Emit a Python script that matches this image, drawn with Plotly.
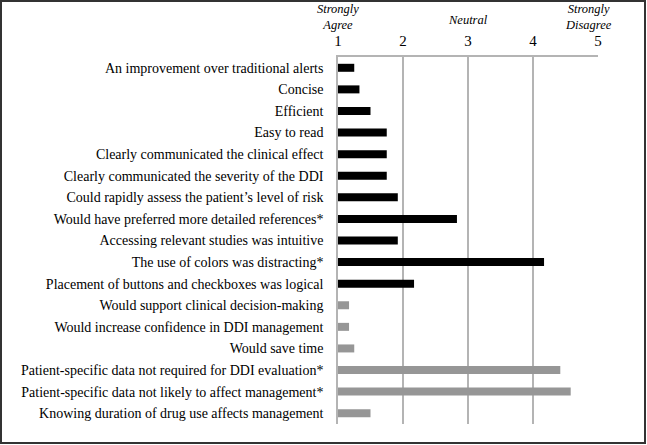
import plotly.graph_objects as go

categories = [
    "An improvement over traditional alerts",
    "Concise",
    "Efficient",
    "Easy to read",
    "Clearly communicated the clinical effect",
    "Clearly communicated the severity of the DDI",
    "Could rapidly assess the patient\u2019s level of risk",
    "Would have preferred more detailed references*",
    "Accessing relevant studies was intuitive",
    "The use of colors was distracting*",
    "Placement of buttons and checkboxes was logical",
    "Would support clinical decision-making",
    "Would increase confidence in DDI management",
    "Would save time",
    "Patient-specific data not required for DDI evaluation*",
    "Patient-specific data not likely to affect management*",
    "Knowing duration of drug use affects management",
]
values = [1.25, 1.33, 1.50, 1.75, 1.75, 1.75, 1.92, 2.83, 1.92, 4.17, 2.17,
          1.17, 1.17, 1.25, 4.42, 4.58, 1.50]
groups = ["black"] * 11 + ["gray"] * 6
tick_vals = [1, 2, 3, 4, 5]
tick_text = ["1", "2", "3", "4", "5"]

colors = {"black": "#000000", "gray": "#969696"}
base = 1

fig = go.Figure(go.Bar(
    y=categories,
    x=[v - base for v in values],
    base=base,
    orientation="h",
    marker=dict(color=[colors[g] for g in groups], line=dict(width=0)),
    width=0.37,
))

FONT = "Liberation Serif"
L, R, T, B = 338, 49, 57, 21
W, H = 647, 445
pw, ph = W - L - R, H - T - B

fig.update_layout(
    width=W, height=H,
    margin=dict(l=L, r=R, t=T, b=B, autoexpand=False),
    paper_bgcolor="white", plot_bgcolor="white",
    showlegend=False,
    font=dict(family=FONT, color="#000000"),
    xaxis=dict(
        side="top", range=[1, 5], tickvals=tick_vals, ticktext=tick_text,
        showgrid=True, gridcolor="#b4b4b4", gridwidth=1.5,
        showline=True, linecolor="#b4b4b4", linewidth=1.5,
        zeroline=False, ticks="", tickfont=dict(size=15, family=FONT),
        ticklabelstandoff=3, fixedrange=True,
    ),
    yaxis=dict(
        autorange="reversed", showgrid=False, zeroline=False,
        showline=True, linecolor="#b4b4b4", linewidth=1.5,
        ticks="", tickfont=dict(size=14, family=FONT),
        ticklabelstandoff=10, fixedrange=True,
    ),
    shapes=[dict(
        type="rect", xref="paper", yref="paper",
        x0=(1 - L) / pw, x1=(W - 2 - L) / pw,
        y0=-(B - 2) / ph, y1=1 + (T - 1) / ph,
        line=dict(color="#333333", width=2), fillcolor="rgba(0,0,0,0)",
    )],
    annotations=[
        dict(x=1, y=1, xref="x", yref="paper", yshift=23, text="Strongly<br>Agree",
             showarrow=False, font=dict(family=FONT, size=12.5, color="#000"),
             yanchor="bottom", xanchor="center"),
        dict(x=3, y=1, xref="x", yref="paper", yshift=28, text="Neutral",
             showarrow=False, font=dict(family=FONT, size=12.5, color="#000"),
             yanchor="bottom", xanchor="center"),
        dict(x=4.86, y=1, xref="x", yref="paper", yshift=23, text="Strongly<br>Disagree",
             showarrow=False, font=dict(family=FONT, size=12.5, color="#000"),
             yanchor="bottom", xanchor="center"),
    ],
)
for a in fig.layout.annotations:
    a.text = "<i>" + a.text.replace("<br>", "</i><br><i>") + "</i>"

fig.write_html(
    "out.html",
    config={"displayModeBar": False},
    post_script="document.body.style.margin='0';document.body.style.overflow='hidden';",
)
